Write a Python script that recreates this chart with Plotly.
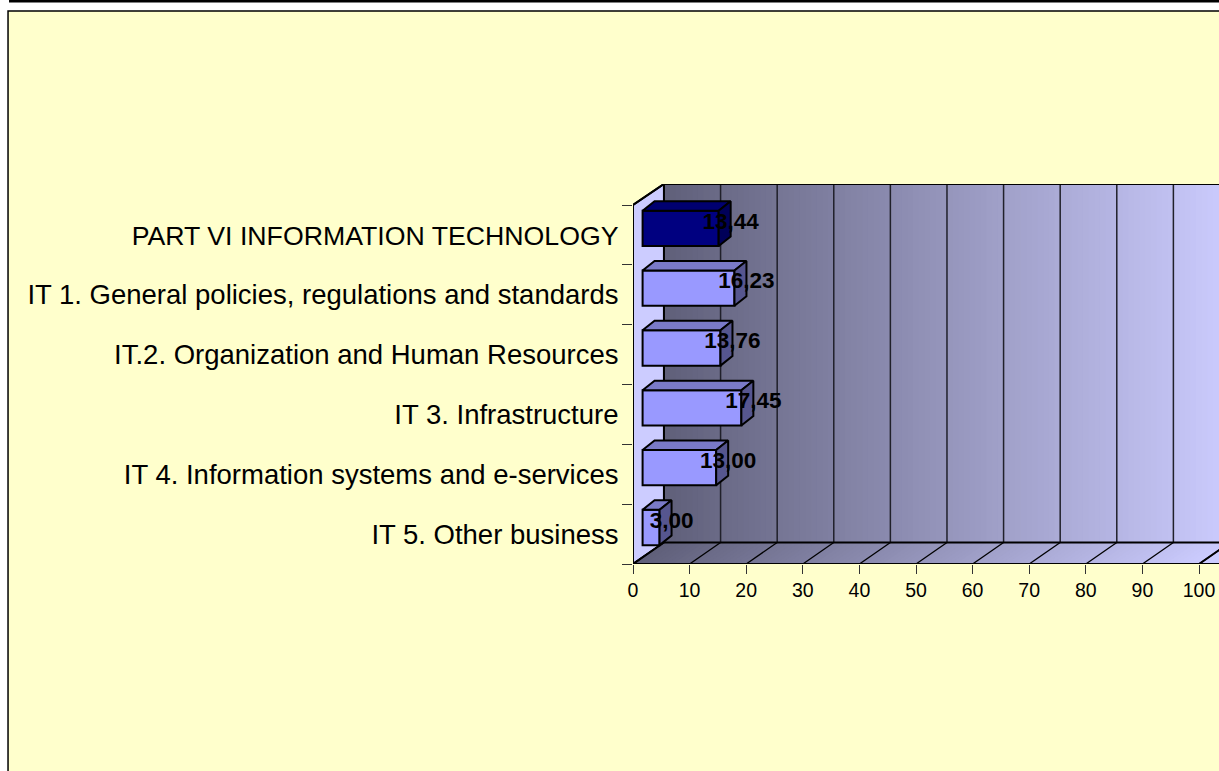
import plotly.graph_objects as go

categories = ["PART VI INFORMATION TECHNOLOGY",
              "IT 1. General policies, regulations and standards",
              "IT.2. Organization and Human Resources",
              "IT 3. Infrastructure",
              "IT 4. Information systems and e-services",
              "IT 5. Other business"]
values = [13.44, 16.23, 13.76, 17.45, 13.00, 3.00]
value_labels = ["13,44", "16,23", "13,76", "17,45", "13,00", "3,00"]
xticks = [0, 10, 20, 30, 40, 50, 60, 70, 80, 90, 100]

W, H = 1219, 771
PX0, PX100 = 632.5, 1199.0
PXU = (PX100 - PX0) / 100
PY_TOP, PY_BOT = 184.0, 564.0
PYU = (564.0 - 205.0) / 6
XMAX = (W - PX0) / PXU
WDX, WDY = 31 / PXU, 21.5 / PYU      # wall depth in axis units
YFRONT_TOP, YBOT = -0.5, 5.5
YTOP = YFRONT_TOP - (205 - PY_TOP) / PYU
BSHIFTX, BSHIFTY = 9.6 / PXU, 6.6 / PYU  # bar offset into the depth
BDX, BDY = 12 / PXU, 9.5 / PYU
BARW = 35.3 / PYU
LW = 2.0

DARK = (96, 96, 122)
LIGHT = (204, 204, 255)
FONT = "Liberation Sans, Arial, sans-serif"
def mix(t):
    t = max(0, min(1, t))
    return "rgb(%d,%d,%d)" % tuple(round(a + (b - a) * t) for a, b in zip(DARK, LIGHT))

shapes = []
# chart panel
shapes.append(dict(type="rect", xref="paper", yref="paper", layer="below",
                   x0=(7 - PX0) / (W - PX0), x1=1.2,
                   y0=-1, y1=(PY_BOT - 11) / (PY_BOT - PY_TOP),
                   fillcolor="#FFFFCC", line=dict(color="black", width=1.5)))
# side wall
shapes.append(dict(type="path", layer="below",
                   path=f"M0,{YBOT} L0,{YFRONT_TOP} L{WDX},{YTOP} L{WDX},{YBOT - WDY} Z",
                   fillcolor="#CCCCFF", line=dict(color="black", width=LW)))
# gradient strips on back wall and floor (each overlaps the next to avoid seams)
N = 105
for i in range(N):
    a, b = i * 1.0, i + 2.0
    col = mix(i / 100)
    shapes.append(dict(type="rect", layer="below", x0=WDX + a, x1=WDX + b,
                       y0=YTOP, y1=YBOT - WDY, fillcolor=col, line=dict(width=0)))
    shapes.append(dict(type="path", layer="below",
                       path=f"M{a},{YBOT} L{a + WDX},{YBOT - WDY} L{b + WDX},{YBOT - WDY} L{b},{YBOT} Z",
                       fillcolor=col, line=dict(width=0)))
# grid lines
for v in xticks:
    if v > 0:
        shapes.append(dict(type="line", layer="below", x0=WDX + v, x1=WDX + v,
                           y0=YTOP, y1=YBOT - WDY, line=dict(color="#20202a", width=1.5)))
    shapes.append(dict(type="line", layer="below", x0=v, x1=v + WDX, y0=YBOT, y1=YBOT - WDY,
                       line=dict(color="black", width=1.3)))
# frame
for s in [(WDX, YTOP, XMAX, YTOP), (WDX, YTOP, WDX, YBOT - WDY), (WDX, YBOT - WDY, XMAX, YBOT - WDY),
          (0, YFRONT_TOP, WDX, YTOP), (0, YBOT, WDX, YBOT - WDY), (0, YBOT, XMAX, YBOT),
          (0, YBOT, 0, YFRONT_TOP), (100, YBOT, 100 + WDX, YBOT - WDY)]:
    shapes.append(dict(type="line", layer="below", x0=s[0], y0=s[1], x1=s[2], y1=s[3],
                       line=dict(color="black", width=LW)))
# top rule
shapes.append(dict(type="rect", xref="paper", yref="paper", layer="below",
                   x0=(8 - PX0) / (W - PX0), x1=1.2,
                   y0=PY_BOT / (PY_BOT - PY_TOP), y1=(PY_BOT - 2.5) / (PY_BOT - PY_TOP),
                   fillcolor="black", line=dict(width=0)))

ys = list(range(len(categories)))
bar_y = [y - BSHIFTY for y in ys]
fig = go.Figure()

front_cols = ["#000080"] + ["#9999FF"] * 5
top_cols = ["#000070"] + ["#7A7AC8"] * 5
side_cols = ["#000058"] + ["#56568F"] * 5

for v, y, tc, sc in zip(values, bar_y, top_cols, side_cols):
    x0, x1 = BSHIFTX, BSHIFTX + v
    yt, yb = y - BARW / 2, y + BARW / 2
    fig.add_trace(go.Scatter(x=[x0, x0 + BDX, x1 + BDX, x1, x0], y=[yt, yt - BDY, yt - BDY, yt, yt],
                             mode="lines", fill="toself", fillcolor=tc,
                             line=dict(color="black", width=LW), hoverinfo="skip"))
    fig.add_trace(go.Scatter(x=[x1, x1 + BDX, x1 + BDX, x1, x1], y=[yt, yt - BDY, yb - BDY, yb, yt],
                             mode="lines", fill="toself", fillcolor=sc,
                             line=dict(color="black", width=LW), hoverinfo="skip"))

fig.add_trace(go.Bar(y=bar_y, x=values, base=[BSHIFTX] * 6, orientation="h", width=BARW,
                     marker=dict(color=front_cols, line=dict(color="black", width=LW))))

fig.add_trace(go.Scatter(x=[BSHIFTX + v + BDX for v in values],
                         y=[y - 5.4 / PYU for y in bar_y],
                         mode="text", text=value_labels, textposition="middle center",
                         textfont=dict(family=FONT, size=22.5, color="black", weight="bold"),
                         cliponaxis=False, hoverinfo="skip"))

# the all-capitals label is set slightly tighter in the reference
tick_text = [f'<span style="font-size:26.7px">{categories[0]}</span>'] + categories[1:]

fig.update_layout(
    width=W, height=H, showlegend=False, paper_bgcolor="white", plot_bgcolor="rgba(0,0,0,0)",
    margin=dict(l=PX0, r=0, t=PY_TOP, b=H - PY_BOT, autoexpand=False),
    shapes=shapes, font=dict(family=FONT, color="black"),
    xaxis=dict(range=[0, XMAX], tickmode="array", tickvals=xticks, ticktext=[str(t) for t in xticks],
               ticks="outside", ticklen=9, tickcolor="#333333", tickwidth=1.3,
               tickfont=dict(size=19.5), showgrid=False, zeroline=False, showline=False, fixedrange=True),
    yaxis=dict(range=[YBOT, YTOP], tickmode="array", tickvals=ys, ticktext=tick_text,
               ticks="outside", ticklen=8, tickcolor="rgba(0,0,0,0)",
               tickfont=dict(size=27.5), showgrid=False, zeroline=False, showline=False, fixedrange=True,
               minor=dict(tickmode="array", tickvals=[y - 0.5 for y in range(7)], ticks="outside",
                          ticklen=10, tickcolor="#333333", tickwidth=1.3, showgrid=False)),
)
fig.write_html("out.html", config={"displayModeBar": False},
               post_script="document.body.style.margin='0';document.documentElement.style.overflow='hidden';")
